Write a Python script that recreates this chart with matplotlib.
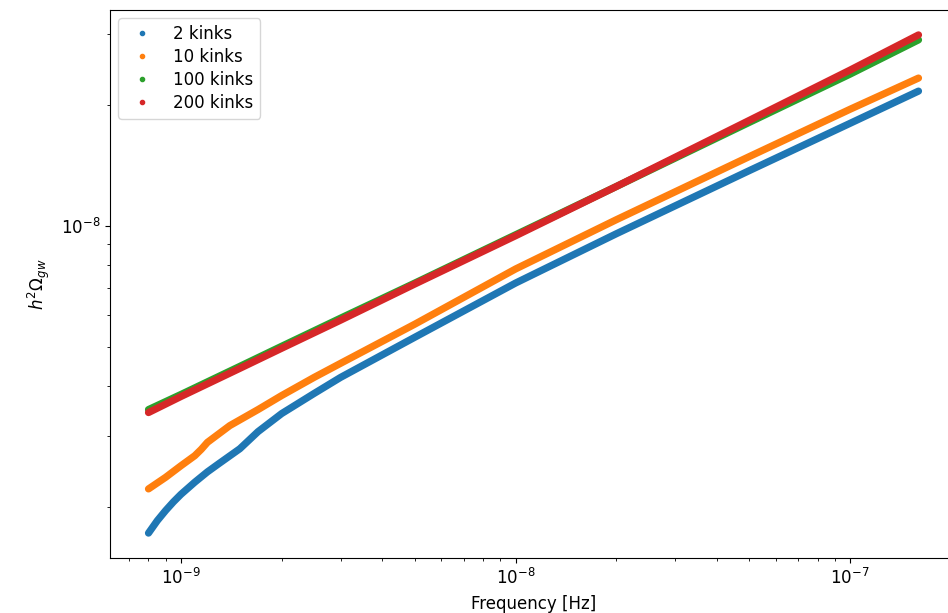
import matplotlib
matplotlib.use("Agg")
import matplotlib.pyplot as plt
from matplotlib.lines import Line2D

# Frequencies [Hz] and h^2 Omega_gw values
x_blue = [8e-10, 8.5e-10, 9e-10, 9.5e-10, 1e-9, 1.1e-9, 1.2e-9, 1.3e-9, 1.5e-9, 1.7e-9, 2e-9,
          2.5e-9, 3e-9, 5e-9, 1e-8, 2e-8, 5e-8, 1e-7, 1.6e-7]
y_blue = [1.718e-9, 1.845e-9, 1.955e-9, 2.055e-9, 2.145e-9, 2.300e-9, 2.440e-9, 2.560e-9,
          2.786e-9, 3.073e-9, 3.408e-9, 3.824e-9, 4.193e-9, 5.278e-9, 7.20e-9, 9.55e-9,
          1.372e-8, 1.799e-8, 2.163e-8]

x_orange = [8e-10, 9e-10, 1e-9, 1.1e-9, 1.15e-9, 1.2e-9, 1.4e-9, 1.7e-9, 2e-9, 2.5e-9,
            3e-9, 5e-9, 1e-8, 2e-8, 5e-8, 1e-7, 1.6e-7]
y_orange = [2.213e-9, 2.365e-9, 2.527e-9, 2.677e-9, 2.776e-9, 2.890e-9, 3.181e-9, 3.487e-9,
            3.779e-9, 4.193e-9, 4.545e-9, 5.689e-9, 7.805e-9, 1.035e-8, 1.487e-8, 1.950e-8,
            2.331e-8]

x_high = [8e-10, 1e-9, 1.5e-9, 2e-9, 3e-9, 5e-9, 1e-8, 2e-8, 5e-8, 1e-7, 1.6e-7]
y_green = [3.487e-9, 3.802e-9, 4.467e-9, 5.012e-9, 5.888e-9, 7.20e-9, 9.495e-9, 1.252e-8,
           1.809e-8, 2.385e-8, 2.901e-8]
y_red = [3.428e-9, 3.758e-9, 4.416e-9, 4.955e-9, 5.821e-9, 7.161e-9, 9.441e-9, 1.252e-8,
         1.830e-8, 2.441e-8, 2.985e-8]

labels = ["2 kinks", "10 kinks", "100 kinks", "200 kinks"]
colors = ["#1f77b4", "#ff7f0e", "#2ca02c", "#d62728"]

plt.rcParams["font.size"] = 12

fig = plt.figure(figsize=(9.48, 6.13), dpi=100)
ax = fig.add_axes([110 / 948, 1 - 558 / 613, 847 / 948, 548 / 613])

series = [(x_blue, y_blue), (x_orange, y_orange), (x_high, y_green), (x_high, y_red)]
for (xs, ys), c in zip(series, colors):
    ax.plot(xs, ys, color=c, lw=5.2, solid_capstyle="round", solid_joinstyle="round")

ax.set_xscale("log")
ax.set_yscale("log")
ax.set_xlabel("Frequency [Hz]", labelpad=5)
ax.set_ylabel(r"$h^2\Omega_{gw}$", labelpad=6)

handles = [Line2D([], [], ls="", marker=".", color=c) for c in colors]
ax.legend(handles, labels, loc="upper left", handletextpad=0.9, labelspacing=0.3)

fig.savefig("out.png", dpi=100)
